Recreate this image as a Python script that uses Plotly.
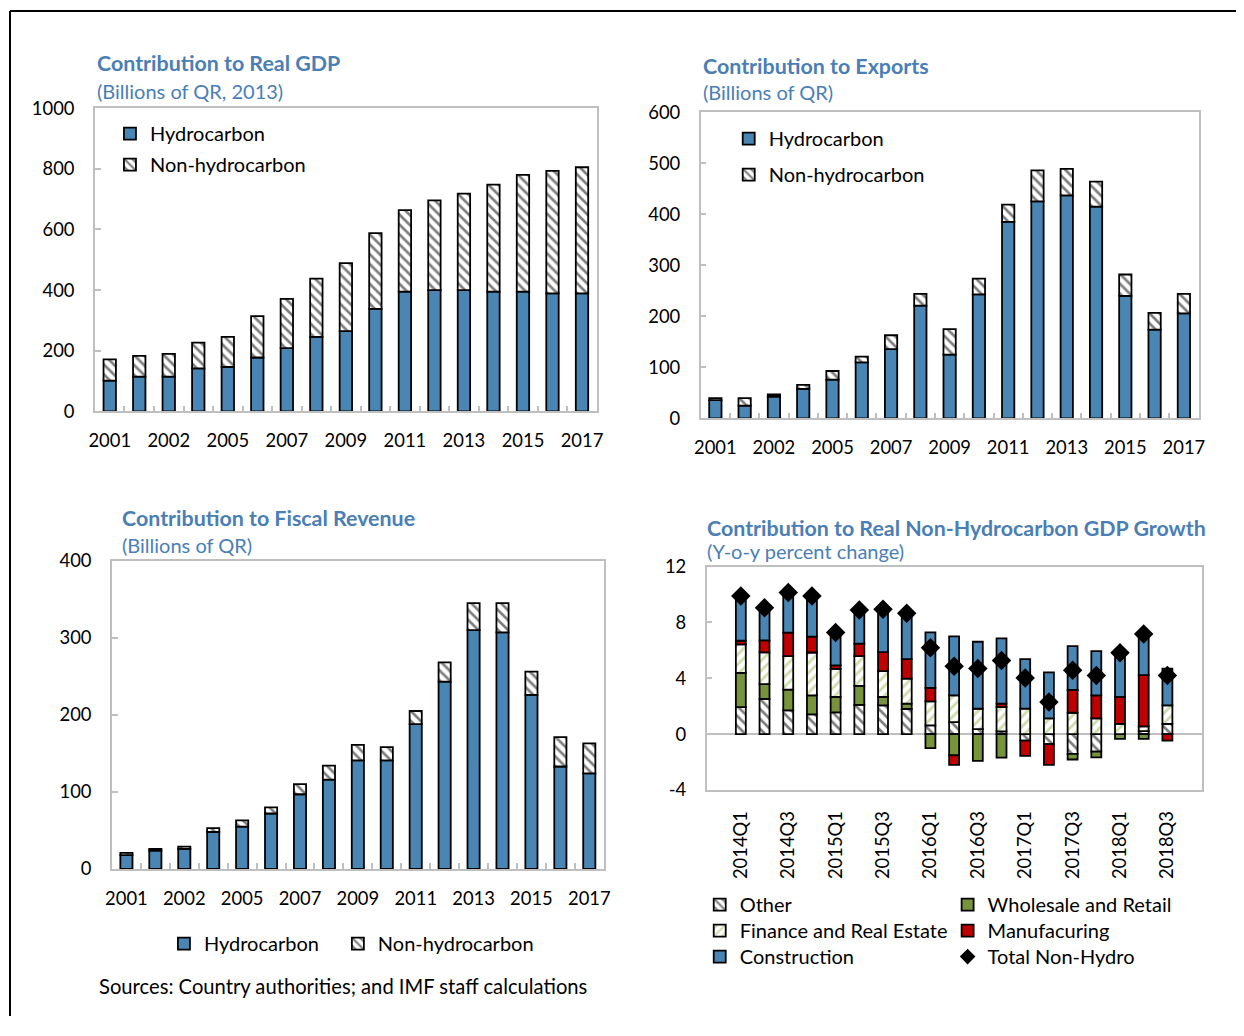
import plotly.graph_objects as go

# figure size, and the measured linear mapping from figure pixels to the
# final picture (picture = A + S * figure), used to place things by picture pixel
W, H = 1228, 1008
AX, SX = 15.0, 0.989
AY, SY = 21.0, 0.977

# ---- data ----
years = [str(y) for y in range(2001, 2018)]
year_ticks = ["2001", "", "2002", "", "2005", "", "2007", "", "2009", "", "2011", "", "2013", "", "2015", "", "2017"]

gdp_hydro = [102, 115, 115, 142, 147, 178, 209, 246, 265, 338, 395, 400, 400, 395, 395, 389, 389]
gdp_nonhydro = [70, 68, 75, 85, 99, 136, 162, 192, 224, 250, 269, 296, 318, 353, 385, 404, 416]

exp_hydro = [36, 25, 43, 58, 76, 110, 136, 221, 125, 243, 385, 425, 437, 415, 240, 174, 206]
exp_nonhydro = [4, 15, 4, 8, 17, 11, 27, 23, 50, 31, 34, 61, 52, 49, 42, 33, 38]

rev_hydro = [18, 24, 26, 48, 55, 72, 97, 116, 141, 141, 188, 243, 310, 307, 226, 133, 124]
rev_nonhydro = [3, 2, 3, 5, 8, 8, 13, 18, 20, 17, 17, 25, 35, 38, 30, 38, 39]

quarters = ["2014Q1", "2014Q2", "2014Q3", "2014Q4", "2015Q1", "2015Q2", "2015Q3", "2015Q4",
            "2016Q1", "2016Q2", "2016Q3", "2016Q4", "2017Q1", "2017Q2", "2017Q3", "2017Q4",
            "2018Q1", "2018Q2", "2018Q3"]
quarter_ticks = ["2014Q1", "", "2014Q3", "", "2015Q1", "", "2015Q3", "", "2016Q1", "",
                 "2016Q3", "", "2017Q1", "", "2017Q3", "", "2018Q1", "", "2018Q3"]
growth_range = [-4, 12]
growth_tickvals = [-4, 0, 4, 8, 12]
growth_ticks = ["-4", "0", "4", "8", "12"]

other = [1.94, 2.52, 1.70, 1.41, 1.56, 2.09, 2.06, 1.80, 0.62, 0.86, 0.36, 0.19, -0.46, -0.72, -1.41, -1.25, 0.0, 0.22, 0.74]
wholesale = [2.45, 1.06, 1.49, 1.37, 1.10, 1.37, 0.60, 0.38, -1.01, -1.53, -1.92, -1.68, 0.0, 0.0, -0.41, -0.41, -0.34, -0.34, 0.0]
finance = [2.04, 2.28, 2.40, 3.07, 2.01, 2.13, 1.85, 1.80, 1.73, 1.92, 1.46, 1.75, 1.82, 1.13, 1.53, 1.13, 0.74, 0.34, 1.32]
manufacturing = [0.26, 0.86, 1.68, 1.13, 0.26, 0.89, 1.37, 1.39, 0.96, -0.67, 0.0, 0.24, -1.10, -1.49, 1.63, 1.65, 1.92, 3.67, -0.46]
construction = [3.21, 2.35, 2.88, 2.93, 2.35, 2.42, 3.14, 3.29, 3.98, 4.22, 4.80, 4.68, 3.55, 3.29, 3.14, 3.17, 3.24, 2.95, 2.64]
total_nonhydro = [9.90, 9.06, 10.14, 9.90, 7.29, 8.90, 8.94, 8.66, 6.19, 4.87, 4.70, 5.28, 4.03, 2.30, 4.58, 4.20, 5.83, 7.17, 4.20]

# ---- styles ----
FONT = "Lato, 'Open Sans', sans-serif"
TITLE_BLUE = "#4a7eb5"
BLUE = "#4a86b3"
GREEN = "#77933c"
RED = "#c00000"
GREY = "#bfbfbf"
OUTLINE = dict(color="black", width=1.8)
HATCH = dict(shape="\\", fgcolor="black", bgcolor="white", size=7, solidity=0.38)
HATCH_GREEN = dict(shape="/", fgcolor="#9bbb59", bgcolor="white", size=7, solidity=0.4)


def px_x(p):
    return (p - AX) / SX / W


def px_y(p):
    return 1 - (p - AY) / SY / H


fig = go.Figure()


def add_pair(hydro, nonhydro, xa, ya, leg_a, leg_b):
    fig.add_trace(go.Bar(x=years, y=hydro, name="Hydrocarbon", xaxis=xa, yaxis=ya,
                         marker=dict(color=BLUE, line=OUTLINE), legend=leg_a,
                         legendgroup=xa + "a"))
    fig.add_trace(go.Bar(x=years, y=nonhydro, name="Non-hydrocarbon", xaxis=xa, yaxis=ya,
                         marker=dict(color="white", pattern=HATCH, line=OUTLINE), legend=leg_b,
                         legendgroup=xa + "b"))


add_pair(gdp_hydro, gdp_nonhydro, "x", "y", "legend", "legend")
add_pair(exp_hydro, exp_nonhydro, "x2", "y2", "legend2", "legend2")
add_pair(rev_hydro, rev_nonhydro, "x3", "y3", "legend3", "legend6")

# panel 4: sector contributions (one small legend per entry, 2 columns x 3 rows)
sectors = [
    ("Other", other, dict(color="white", pattern=HATCH, line=OUTLINE), "legend4"),
    ("Wholesale and Retail", wholesale, dict(color=GREEN, line=OUTLINE), "legend5"),
    ("Finance and Real Estate", finance, dict(color="white", pattern=HATCH_GREEN, line=OUTLINE), "legend7"),
    ("Manufacuring", manufacturing, dict(color=RED, line=OUTLINE), "legend8"),
    ("Construction", construction, dict(color=BLUE, line=OUTLINE), "legend9"),
]
for name, vals, marker, leg in sectors:
    fig.add_trace(go.Bar(x=quarters, y=vals, name=name, xaxis="x4", yaxis="y4",
                         marker=marker, legend=leg, legendgroup=name))
fig.add_trace(go.Scatter(x=quarters, y=total_nonhydro, name="Total Non-Hydro", mode="markers",
                         xaxis="x4", yaxis="y4", legend="legend10", legendgroup="total",
                         marker=dict(symbol="diamond", size=15, color="black")))

# ---- axes ----
tickfont = dict(size=18.4, color="black", family=FONT)


def xax(dom, anchor, cats, ticktext, ticks=True, angle=0):
    return dict(domain=[px_x(dom[0]), px_x(dom[1])], anchor=anchor, type="category",
                tickmode="array", tickvals=cats, ticktext=ticktext, tickson="boundaries",
                ticks="inside" if ticks else "", ticklen=6, tickcolor=GREY, tickwidth=1.5,
                showline=True, linecolor=GREY, linewidth=1.5, mirror=True, tickangle=angle,
                showgrid=False, zeroline=False, tickfont=tickfont, ticklabelstandoff=12)


def yax(dom, anchor, rng, dtick, zero=False):
    return dict(domain=[px_y(dom[1]), px_y(dom[0])], anchor=anchor, range=rng, dtick=dtick,
                ticks="inside", ticklen=6, tickcolor=GREY, tickwidth=1.5,
                showline=True, linecolor=GREY, linewidth=1.5, mirror=True,
                showgrid=False, zeroline=zero, zerolinecolor=GREY, zerolinewidth=2,
                tickfont=tickfont, ticklabelstandoff=15)


y4 = yax((567, 790), "x4", growth_range, 4, zero=True)
y4.update(tickmode="array", tickvals=growth_tickvals, ticktext=growth_ticks)
x4 = xax((707, 1202), "y4", quarters, quarter_ticks, ticks=False, angle=-90)

# tick marks of panel 4 sit on the zero line: a label-less overlay axis placed there
y4_lo, y4_hi = y4["domain"]
zero_pos = y4_lo + (0 - growth_range[0]) / (growth_range[1] - growth_range[0]) * (y4_hi - y4_lo)
x5 = dict(overlaying="x4", anchor="free", position=zero_pos, domain=x4["domain"],
          type="category", categoryarray=quarters, categoryorder="array",
          range=[-0.5, len(quarters) - 0.5], tickmode="array", tickvals=quarters,
          tickson="boundaries", ticks="inside", ticklen=6, tickcolor=GREY, tickwidth=1.5,
          showticklabels=False, showline=False, showgrid=False, zeroline=False)

fig.update_layout(
    xaxis=xax((95, 597), "y", years, year_ticks),
    yaxis=yax((109, 412), "x", [0, 1000], 200),
    xaxis2=xax((701, 1199), "y2", years, year_ticks),
    yaxis2=yax((113, 419), "x2", [0, 600], 100),
    xaxis3=xax((112, 604), "y3", years, year_ticks),
    yaxis3=yax((561, 869), "x3", [0, 400], 100),
    xaxis4=x4,
    yaxis4=y4,
    xaxis5=x5,
)

# ---- legends ----
leg_common = dict(bgcolor="rgba(0,0,0,0)", traceorder="grouped",
                  xanchor="left", yanchor="top", itemwidth=30)
big = dict(size=20, color="black", family=FONT)
fig.update_layout(
    legend=dict(x=px_x(110), y=px_y(115), tracegroupgap=2, font=big, **leg_common),
    legend2=dict(x=px_x(729), y=px_y(120), tracegroupgap=7, font=big, **leg_common),
    legend3=dict(x=px_x(164), y=px_y(924), font=big, **leg_common),
    legend6=dict(x=px_x(338), y=px_y(924), font=big, **leg_common),
    legend4=dict(x=px_x(700), y=px_y(885), font=big, **leg_common),
    legend7=dict(x=px_x(700), y=px_y(911), font=big, **leg_common),
    legend9=dict(x=px_x(700), y=px_y(937), font=big, **leg_common),
    legend5=dict(x=px_x(948), y=px_y(885), font=big, **leg_common),
    legend8=dict(x=px_x(948), y=px_y(911), font=big, **leg_common),
    legend10=dict(x=px_x(948), y=px_y(937), font=big, itemsizing="constant", **leg_common),
)

# ---- titles ----
titles = [
    (95, 64, 92, "Contribution to Real GDP", "(Billions of QR, 2013)"),
    (701, 67, 93, "Contribution to Exports", "(Billions of QR)"),
    (120, 518, 545, "Contribution to Fiscal Revenue", "(Billions of QR)"),
    (705, 528, 551, "Contribution to Real Non-Hydrocarbon GDP Growth", "(Y-o-y percent change)"),
]
for x, y1, y2, t, s in titles:
    fig.add_annotation(x=px_x(x), y=px_y(y1), xref="paper", yref="paper", xanchor="left",
                       yanchor="middle", showarrow=False, text="<b>" + t + "</b>",
                       font=dict(size=21.4, color=TITLE_BLUE, family=FONT))
    fig.add_annotation(x=px_x(x), y=px_y(y2), xref="paper", yref="paper", xanchor="left",
                       yanchor="middle", showarrow=False, text=s,
                       font=dict(size=20, color=TITLE_BLUE, family=FONT))

fig.add_annotation(x=px_x(97), y=px_y(986), xref="paper", yref="paper", xanchor="left",
                   yanchor="middle", showarrow=False,
                   text="Sources: Country authorities; and IMF staff calculations",
                   font=dict(size=20.2, color="black", family=FONT))

# outer frame (left and top edges)
fig.add_shape(type="line", xref="paper", yref="paper", x0=px_x(10), x1=1.05, y0=px_y(12), y1=px_y(12),
              line=dict(color="black", width=2))
fig.add_shape(type="line", xref="paper", yref="paper", x0=px_x(10), x1=px_x(10), y0=-0.05, y1=px_y(12),
              line=dict(color="black", width=2))

fig.update_layout(
    width=W, height=H, margin=dict(l=0, r=0, t=0, b=0),
    barmode="relative", bargap=0.58,
    paper_bgcolor="white", plot_bgcolor="white",
    font=dict(family=FONT, color="black"),
)

fig.write_html("out.html")
